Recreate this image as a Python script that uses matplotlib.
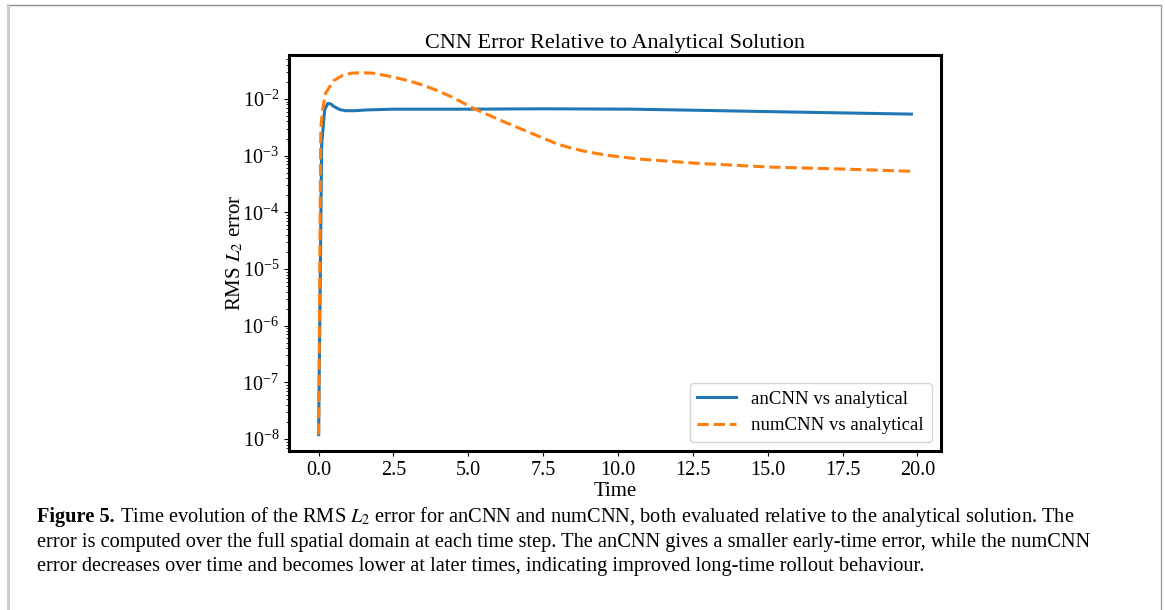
import matplotlib
matplotlib.use("Agg")
import matplotlib.pyplot as plt
from matplotlib.lines import Line2D

plt.rcParams['font.family'] = ['Liberation Serif', 'DejaVu Serif']
plt.rcParams['mathtext.fontset'] = 'stix'

# ---- data ----
an_time = [0.0, 0.1, 0.2, 0.3, 0.4, 0.5, 0.7, 0.9, 1.2, 1.6, 2.5, 5.0, 7.5,
           10.5, 12.7, 15.6, 19.8]
an_err = [1.2e-8, 1.5e-3, 6.4e-3, 8.3e-3, 8.2e-3, 7.4e-3, 6.5e-3, 6.2e-3,
          6.2e-3, 6.4e-3, 6.6e-3, 6.6e-3, 6.7e-3, 6.6e-3, 6.3e-3, 5.9e-3,
          5.4e-3]

num_time = [0.0, 0.07, 0.13, 0.23, 0.5, 0.8, 1.1, 1.4, 1.8, 2.3, 3.0, 3.5,
            4.0, 4.5, 5.23, 6.0, 6.73, 7.5, 8.0, 8.4, 8.8, 9.2, 9.6, 10.07,
            10.73, 12.5, 15.0, 17.5, 19.8]
num_err = [1.2e-8, 2.9e-3, 6.4e-3, 1.26e-2, 2.1e-2, 2.6e-2, 2.85e-2, 2.9e-2,
           2.85e-2, 2.55e-2, 2.1e-2, 1.74e-2, 1.38e-2, 1.05e-2, 6.6e-3,
           4.37e-3, 3.0e-3, 2.04e-3, 1.58e-3, 1.38e-3, 1.22e-3, 1.11e-3,
           1.02e-3, 9.5e-4, 8.7e-4, 7.4e-4, 6.3e-4, 5.8e-4, 5.3e-4]

series_labels = ["anCNN vs analytical", "numCNN vs analytical"]
title = "CNN Error Relative to Analytical Solution"
xlabel = "Time"
ylabel = "RMS $L_2$ error"
xtick_vals = [0.0, 2.5, 5.0, 7.5, 10.0, 12.5, 15.0, 17.5, 20.0]
xtick_labels = ["0.0", "2.5", "5.0", "7.5", "10.0", "12.5", "15.0", "17.5",
                "20.0"]

caption_bold = "Figure 5."
caption_lines = [
    " Time evolution of the RMS $L_2$ error for anCNN and numCNN, both evaluated relative to the analytical solution. The",
    "error is computed over the full spatial domain at each time step. The anCNN gives a smaller early-time error, while the numCNN",
    "error decreases over time and becomes lower at later times, indicating improved long-time rollout behaviour.",
]

W, H = 1165, 610
fig = plt.figure(figsize=(W / 100, H / 100), dpi=100)

# outer frame of the figure box
fig.add_artist(Line2D([7 / W, 1160 / W], [1 - 4.5 / H, 1 - 4.5 / H],
                      transform=fig.transFigure, color="#8c8c8c", lw=1.0))
fig.add_artist(Line2D([7.5 / W, 7.5 / W], [0, 1 - 4.5 / H],
                      transform=fig.transFigure, color="#c8c8c8", lw=2.0))
fig.add_artist(Line2D([1160.5 / W, 1160.5 / W], [0, 1 - 4.5 / H],
                      transform=fig.transFigure, color="#a0a0a0", lw=1.0))

ax = fig.add_axes([289 / W, 1 - 451 / H, (941 - 289) / W, (451 - 55) / H])
ax.plot(an_time, an_err, color="#1f77b4", lw=2.2, label=series_labels[0])
ax.plot(num_time, num_err, color="#ff7f0e", lw=2.2, ls="--",
        label=series_labels[1])
ax.set_yscale("log")
ax.set_xlim(-0.99, 20.79)
ax.set_ylim(10 ** -8.21, 10 ** -1.225)
ax.set_xticks(xtick_vals)
ax.set_xticklabels(xtick_labels)
ax.tick_params(labelsize=14.5)
for s in ax.spines.values():
    s.set_linewidth(2.2)
ax.set_title(title, fontsize=16, pad=5)
ax.set_xlabel(xlabel, fontsize=15, labelpad=2)
ax.set_ylabel(ylabel, fontsize=15, labelpad=-2)
ax.legend(loc="lower right", fontsize=13.5, handlelength=2.1,
          borderaxespad=0.5)

# caption, one text per line; size fitted so the longest line spans the box
renderer = fig.canvas.get_renderer()
x0 = 37 / W
ys = [1 - 517 / H, 1 - 542 / H, 1 - 567 / H]
probe = fig.text(x0, ys[1], caption_lines[1], fontsize=15.0, va="center")
wpx = probe.get_window_extent(renderer).width
probe.remove()
cap_size = 15.0 * (1095 - 37) / wpx

tb = fig.text(x0, ys[0], caption_bold, fontsize=cap_size, fontweight="bold",
              va="center")
bw = tb.get_window_extent(renderer).width
fig.text(x0 + bw / W, ys[0], caption_lines[0], fontsize=cap_size,
         va="center")
fig.text(x0, ys[1], caption_lines[1], fontsize=cap_size, va="center")
fig.text(x0, ys[2], caption_lines[2], fontsize=cap_size, va="center")

fig.savefig("out.png", dpi=100)
